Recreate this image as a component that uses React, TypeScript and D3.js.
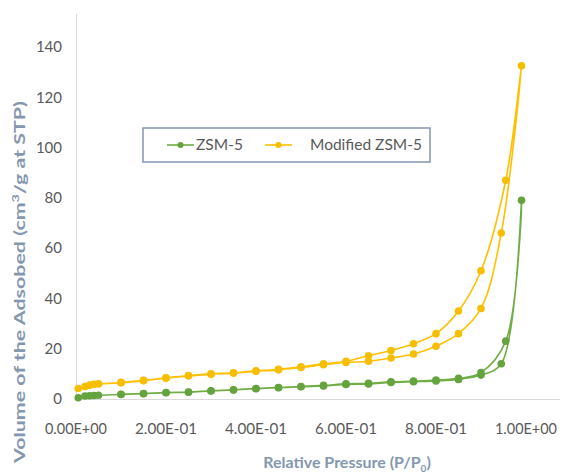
import React from "react";
import * as d3 from "d3";

// Relative pressure (P/P0) for adsorption branch
const adsP = [0.005, 0.02, 0.03, 0.04, 0.05, 0.1, 0.15, 0.2, 0.25, 0.3, 0.35, 0.4, 0.45, 0.5, 0.55, 0.6, 0.65, 0.7, 0.75, 0.8, 0.85, 0.9, 0.945, 0.99];
// Relative pressure for desorption branch (after the top point)
const desP = [0.955, 0.9, 0.85, 0.8, 0.75, 0.7, 0.65, 0.6, 0.55, 0.5, 0.45, 0.4, 0.35, 0.3, 0.25, 0.2, 0.15, 0.1];

const zsmAds = [0.5, 1.2, 1.3, 1.4, 1.5, 1.8, 2.1, 2.5, 2.7, 3.2, 3.6, 4.1, 4.5, 4.9, 5.2, 5.8, 6.0, 6.6, 6.9, 7.2, 7.8, 9.5, 14, 79];
const zsmDes = [23, 10.5, 8.2, 7.5, 7.1, 6.8, 6.2, 6.0, 5.4, 5.0, 4.6, 4.2, 3.7, 3.3, 2.8, 2.6, 2.2, 1.9];

const modAds = [4.2, 5.0, 5.5, 5.8, 6.0, 6.5, 7.3, 8.3, 9.2, 9.8, 10.3, 11.0, 11.6, 12.5, 13.6, 14.5, 15.0, 16.3, 17.9, 21, 26, 36, 66, 132.5];
const modDes = [87, 51, 35, 26, 22, 19.3, 17.2, 15.0, 14.0, 12.8, 11.8, 11.2, 10.4, 10.0, 9.3, 8.4, 7.4, 6.6];

const seriesNames = ["ZSM-5", "Modified ZSM-5"];
const seriesColors = ["#70AD47", "#FFC000"];
const markerColors = ["#65A33E", "#F7BE00"];

const xTicks = [0, 0.2, 0.4, 0.6, 0.8, 1.0];
const xTickLabels = ["0.00E+00", "2.00E-01", "4.00E-01", "6.00E-01", "8.00E-01", "1.00E+00"];
const yTicks = [0, 20, 40, 60, 80, 100, 120, 140];

const W = 566;
const H = 474;

export default function App() {
  const x = d3.scaleLinear().domain([0, 1]).range([76, 526]);
  const y = d3.scaleLinear().domain([0, 140]).range([399, 47]);

  const build = (ads: number[], des: number[]) => {
    const pts: [number, number][] = [];
    adsP.forEach((p, i) => pts.push([p, ads[i]]));
    desP.forEach((p, i) => pts.push([p, des[i]]));
    return pts;
  };
  const series = [build(zsmAds, zsmDes), build(modAds, modDes)];

  const line = d3
    .line<[number, number]>()
    .x((d) => x(d[0]))
    .y((d) => y(d[1]))
    .curve(d3.curveCatmullRom.alpha(0.5));

  const font = "Lato, 'Open Sans', sans-serif";
  const titleColor = "#8497B0";
  const tickColor = "#595959";

  return (
    <svg
      width={W}
      height={H}
      style={{ position: "absolute", left: 0, top: 0, background: "#fff" }}
      fontFamily={font}
    >
      <rect x={0} y={0} width={W} height={H} fill="#fff" />
      {/* axes */}
      <line x1={76.5} x2={76.5} y1={14} y2={399} stroke="#D9D9D9" strokeWidth={1} />
      <line x1={76} x2={560} y1={399.5} y2={399.5} stroke="#D9D9D9" strokeWidth={1} />

      {/* y tick labels */}
      {yTicks.map((t) => (
        <text key={t} x={62} y={y(t)} dy="0.35em" textAnchor="end" fontSize={15} fill={tickColor}>
          {t}
        </text>
      ))}
      {/* x tick labels */}
      {xTicks.map((t, i) => (
        <text key={t} x={x(t)} y={429} dy="0.35em" textAnchor="middle" fontSize={14.5} fill={tickColor} textLength={62} lengthAdjust="spacingAndGlyphs">
          {xTickLabels[i]}
        </text>
      ))}

      {/* axis titles */}
      <text
        transform={`translate(20,282) rotate(-90)`}
        textAnchor="middle"
        dy="0.35em"
        fontSize={15}
        fontWeight="bold"
        fill={titleColor}
        textLength={362}
        lengthAdjust="spacingAndGlyphs"
      >
        Volume of the Adsobed (cm<tspan fontSize={10} dy="-6">3</tspan>
        <tspan dy="6">/g at STP)</tspan>
      </text>
      <text x={347} y={462} dy="0.35em" textAnchor="middle" fontSize={16} fontWeight="bold" fill={titleColor}>
        Relative Pressure (P/P<tspan fontSize={10} dy="4">0</tspan>
        <tspan dy="-4">)</tspan>
      </text>

      {/* series */}
      {series.map((pts, si) => (
        <g key={si}>
          <path d={line(pts) || ""} fill="none" stroke={seriesColors[si]} strokeWidth={1.6} />
          {pts.map((d, i) => (
            <circle key={i} cx={x(d[0])} cy={y(d[1])} r={3.8} fill={markerColors[si]} />
          ))}
        </g>
      ))}

      {/* legend */}
      <rect x={143} y={128} width={287} height={34} fill="#fff" stroke="#8497B0" strokeWidth={1.5} />
      {seriesNames.map((n, i) => {
        const lx = i === 0 ? 167 : 265;
        const tx = i === 0 ? 196 : 310;
        return (
          <g key={n}>
            <line x1={lx} x2={lx + 27} y1={145} y2={145} stroke={seriesColors[i]} strokeWidth={1.6} />
            <circle cx={lx + 13.5} cy={145} r={3} fill={markerColors[i]} />
            <text x={tx} y={145} dy="0.35em" fontSize={15.5} fill={tickColor}>
              {n}
            </text>
          </g>
        );
      })}
    </svg>
  );
}
